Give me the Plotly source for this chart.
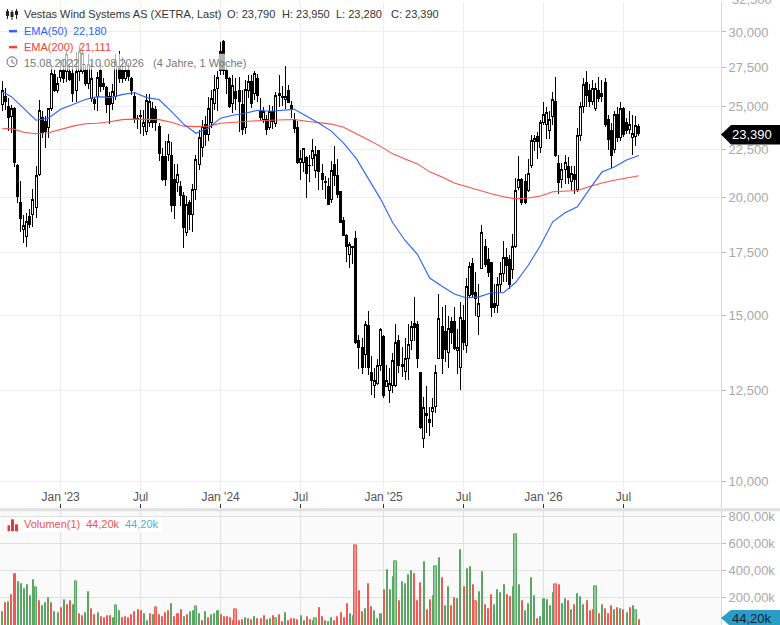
import pandas as pd
import plotly.graph_objects as go

W, H = 780, 625

# weekly candles
opens = [25110,25600,25000,24410,24910,21650,19750,18530,18200,19090,19190,19540,21180,24320,24080,23760,24860,27030,26030,26810,
         27330,27230,27230,27100,26030,27230,27230,27330,26460,25500,25460,25610,27330,26460,26170,25610,25200,25610,27560,27330,
         26800,27300,26780,25610,24300,24390,23830,23540,24020,24900,24800,23830,22150,22150,22240,22200,20930,20760,20540,20130,
         18380,19770,19220,20420,21710,22600,23930,23350,24020,25200,26130,28570,29280,27330,26780,25200,25920,26030,25110,23730,
         26030,26560,25830,26780,24750,24220,24220,23730,24710,23960,25660,25590,25430,26000,25050,24220,23770,21790,21790,22050,
         21670,22010,21360,22470,21200,20820,20570,19940,21710,21100,20310,18930,18240,17400,17740,18100,14120,13860,13650,14630,
         13050,12640,12710,13280,14240,12600,12500,12650,12650,14120,13300,13070,13490,14120,14720,14690,13050,11100,11800,11640,
         11850,12000,13520,14590,14430,13720,14780,14770,13780,13220,14830,13930,15750,17050,15850,14950,16840,17740,17200,17080,
         15460,15370,16170,16630,17270,17200,16800,17770,20500,20930,20840,20340,21620,22970,23250,22610,24020,23930,23590,24410,
         25300,21750,20930,21450,21570,20840,21170,20420,23310,25010,26500,26030,25340,24910,26030,25820,26520,24220,23590,22520,
         24510,23200,24870,24020,23640,23160,23250,23790]
highs = [26600,26130,25500,25100,24950,21700,20840,19190,19280,19470,20420,21620,25400,24710,24410,24900,27700,27330,26860,28000,
         28000,28570,27700,28000,28570,29000,28800,27700,28400,27800,25600,27200,27700,26800,26300,25900,26400,28400,28600,28200,
         27900,27800,26870,25900,24510,24800,24800,25800,25800,25300,25050,24000,22600,23000,23400,22900,21700,21700,20840,20300,
         20100,19900,20700,22200,23600,24200,24400,25600,26000,27000,27300,29300,29430,27500,26900,27000,26800,26900,26000,26700,
         27000,27000,27300,27100,25500,25000,24500,25100,25050,25900,27030,26300,27620,26350,25340,24600,24120,22500,22600,22160,
         22200,23100,22700,22500,21700,21100,21000,21900,22700,22000,20350,19100,18300,17950,17800,18450,14300,14200,14800,15170,
         13600,13200,13500,14550,14300,13300,13200,13700,14700,14300,13900,14200,14700,14800,15700,14800,13050,12300,12630,12000,
         12250,13280,15800,15300,15400,15000,14950,15300,14500,15500,15400,16450,17100,17250,16700,16200,18700,18100,17700,17100,
         16200,16500,17100,18000,17700,17400,18300,21000,22130,21000,21200,22000,23300,23300,23500,24200,25300,25000,24700,25900,
         26900,22200,21800,22200,22100,21600,21600,23700,25300,26800,27270,26400,26700,26500,26900,26700,26800,24500,24000,24700,
         25000,25300,25000,24300,24700,24500,24400,23950]
lows = [24710,24810,23540,23440,21550,19750,18380,17900,17730,18600,18620,19040,21100,23160,22600,23160,24710,25920,25830,26560,
        26500,26560,26600,25300,25300,26600,27100,26300,26100,25300,24800,24710,25900,26000,24610,23950,24800,25400,26500,26500,
        26600,26600,25700,24000,23640,23400,23250,23300,23800,23700,23540,21880,20840,20600,21900,19300,19000,20300,19600,17700,
        18200,18500,18400,19900,21400,22100,22700,23000,23700,24800,24700,27000,27000,25800,24900,24600,24800,23500,23300,23400,
        25500,24900,25400,25300,24120,24000,23300,23600,23640,23800,24950,25050,24870,25200,24320,23440,21700,20900,21300,20000,
        20800,21600,21000,20400,20400,19930,19680,19750,20600,20000,18800,18200,17100,16860,17000,14000,13150,13000,13200,12960,
        12350,12250,12650,13100,12250,12600,12100,12400,12600,13050,12900,12800,12800,13800,14100,13200,11370,10860,11250,11180,
        11420,11830,13500,13000,13400,13200,14000,13800,13000,12500,13800,13700,15650,15700,15000,14300,16800,16900,16500,14950,
        15100,15100,15900,16300,16300,16000,16400,17700,20400,19650,19700,20300,21500,22400,22000,22300,23900,23100,23100,23900,
        22100,20200,20500,20700,20700,20400,20200,20300,23000,24600,25000,25000,25100,24700,25300,25300,23800,22500,21500,22300,
        22900,23000,23200,23400,23400,22200,22700,23280]
closes = [26020,25340,24320,24880,21780,20060,19000,18680,18870,18760,19930,21100,24750,23440,23500,24870,27100,26030,26450,27330,
          26760,28400,26700,25830,27230,28570,28450,26460,27700,26780,25200,26870,26240,26240,25110,25110,25920,27890,26780,26780,
          27330,26900,26030,24210,24200,24450,24020,25400,25300,24020,24020,22270,20900,20900,22970,19610,19650,21180,20130,18600,
          19690,19220,20420,21970,23150,23830,23350,24870,25500,26090,26870,27330,27330,26780,25010,26350,25500,25300,23640,26090,
          26600,25200,27090,25700,24320,24710,23640,24710,24120,25700,25800,25570,25630,25260,24900,23680,21790,22030,22560,21220,
          21640,22450,22240,21340,20930,20760,19680,21360,21100,20180,18830,18240,17770,17830,17700,14050,13860,13200,14690,13220,
          12790,12790,13280,14480,12350,12790,12700,13430,14040,13280,13240,13520,13970,14600,14580,13500,11420,11970,11760,11560,
          11970,13050,14880,13500,13800,14530,14400,13830,13860,14940,14050,16100,16900,15800,15650,15460,18370,17000,16650,15300,
          15300,16180,16630,17270,16950,16180,17770,20340,20930,19770,19770,21240,23010,23120,22970,24060,24510,24610,24220,25430,
          22160,20760,21410,21790,21020,21200,20930,23310,25010,26400,25700,25340,26130,26130,25500,25600,23930,23060,22200,24510,
          23200,24910,23340,23590,23930,23430,23870,23390]

# EMAs, read every fourth week
ema_weeks = [0] + list(range(3, 208, 4))
ema50 = [25920,25610,24890,24180,24300,24830,25120,25430,25610,25550,25740,25870,25550,25430,24710,23950,23420,23710,24300,24470,24590,24770,
         24710,24770,24830,24410,24000,23540,22860,22050,20950,19950,18820,18020,17420,16440,16110,15810,15660,15700,15860,15860,16270,
         16950,17800,18860,19280,19570,20440,21300,21570,21940,22180]
ema200 = [23680,23700,23480,23390,23450,23660,23830,23970,24000,24090,24210,24240,24240,24210,24060,23830,23800,23830,24000,24060,24120,24150,
          24180,24210,24220,24120,24030,23950,23770,23420,23050,22680,22270,21990,21730,21310,21050,20740,20550,20370,20200,20050,19950,
          19990,20090,20300,20330,20360,20560,20740,20880,21010,21111]

# volume in thousands, R = red bar, G = green bar
volume = [103,166,176,228,382,323,308,272,299,220,338,279,184,147,169,206,169,103,95,132,
          191,154,184,154,323,88,73,95,250,125,81,95,66,59,73,73,59,147,110,59,
          66,59,81,103,118,110,88,37,88,81,132,81,66,95,110,162,66,88,118,66,
          81,103,110,140,88,37,103,59,81,88,110,81,66,66,59,37,118,37,44,59,
          51,44,66,51,51,73,44,51,73,51,81,29,95,37,51,51,44,73,37,66,
          44,37,51,132,66,37,29,59,37,66,95,59,162,88,73,588,257,103,125,308,
          140,110,51,88,264,411,264,360,470,184,323,308,375,404,382,184,316,470,118,191,
          220,433,499,353,147,286,147,206,198,558,286,419,433,301,176,250,397,154,125,228,
          154,264,242,301,228,213,286,668,301,184,110,162,353,220,51,66,198,191,147,242,
          301,301,162,198,184,118,154,235,213,154,184,110,118,286,88,154,125,88,147,118,
          132,125,118,95,132,147,110,44.2]
vol_side = ("GRGRRGGGGG" "GGRGGGRGGR" "GRRGGRRGGR" "RGRRRRGGGR" "RRRRRRGGRG" "RRRRRGRRRG" "RGGGGRGRGG"
            "GRRRRRRRRG" "GRGRRRGGRG" "RRGRRRRGGR" "RGGRRGGGRR" "RRRGGRRRGR" "RGGGRGG"
            "GGRGGGGRRR" "GRRGGGRGGR" "RGGRGGRRGG" "RRRGGGGRRG" "GGRGGGGRGG" "GGGRRGGRGR" "GGGRRRGRGR" "RRGRGRGRGG" "R")

price_ticks = [10000, 12500, 15000, 17500, 20000, 22500, 25000, 27500, 30000]
price_labels = ["10,000", "12,500", "15,000", "17,500", "20,000", "22,500", "25,000", "27,500", "30,000"]
vol_ticks = [200, 400, 600, 800]
vol_labels = ["200,00k", "400,00k", "600,00k", "800,00k"]
month_ticks = ["2023-01-02", "2023-07-03", "2024-01-01", "2024-07-01", "2025-01-06", "2025-07-07", "2026-01-05", "2026-07-06"]
month_labels = ["Jan '23", "Jul", "Jan '24", "Jul", "Jan '25", "Jul", "Jan '26", "Jul"]

dates = pd.date_range(end="2026-08-10", periods=len(closes), freq="7D")
ema_dates = [dates[i] for i in ema_weeks]


def px(x):
    return x / W


def py(y):
    return 1 - y / H


fig = go.Figure()
fig.add_trace(go.Candlestick(x=dates, open=opens, high=highs, low=lows, close=closes,
                             increasing=dict(line=dict(color="#000000", width=1), fillcolor="#ffffff"),
                             decreasing=dict(line=dict(color="#000000", width=1), fillcolor="#000000"),
                             whiskerwidth=0, showlegend=False, hoverinfo="skip"))
fig.add_trace(go.Scatter(x=ema_dates, y=ema200, mode="lines", line=dict(color="#f9534a", width=1.1), showlegend=False))
fig.add_trace(go.Scatter(x=ema_dates, y=ema50, mode="lines", line=dict(color="#2962ff", width=1.1), showlegend=False))

# every 13th bar lands on three pixels and looks lighter with an outline
wide_bars = set(range(11, len(volume), 13))
solid = {"R": "#ef5a55", "G": "#5aa665"}
light = {"R": "#f58f8b", "G": "#92cb9a"}
day_ms = 86400000
fig.add_trace(go.Bar(x=dates, y=volume, xaxis="x2", yaxis="y2", showlegend=False,
                     width=[6.6 * day_ms if i in wide_bars else 4.6 * day_ms for i in range(len(volume))],
                     marker=dict(color=[light[s] if i in wide_bars else solid[s] for i, s in enumerate(vol_side)],
                                 line=dict(color=[solid[s] for s in vol_side],
                                           width=[1 if i in wide_bars else 0 for i in range(len(volume))]))))

x_range = ["2022-08-17", "2027-02-13"]
fig.update_layout(
    width=W, height=H, margin=dict(l=0, r=0, t=0, b=0), paper_bgcolor="#ffffff", plot_bgcolor="#ffffff",
    font=dict(family="Liberation Sans, Arial, sans-serif", size=12), bargap=0, boxgap=0.35, boxgroupgap=0,
    xaxis=dict(domain=[0, px(721)], range=x_range, type="date", rangeslider=dict(visible=False), anchor="y",
               tickvals=month_ticks, ticktext=month_labels, ticks="inside", ticklen=4, tickcolor="#333333",
               ticklabelposition="inside", tickfont=dict(color="#555555", size=12),
               showgrid=True, gridcolor="#eeeeee", gridwidth=1, zeroline=False, showline=False),
    yaxis=dict(domain=[py(508), 1], type="log", range=[3.9714, 4.5089], side="right", anchor="x",
               tickvals=price_ticks, ticktext=price_labels, ticks="outside", ticklen=4, tickcolor="#bbbbbb",
               tickfont=dict(color="#a8a8a8", size=13), showgrid=True, gridcolor="#eeeeee", gridwidth=1,
               showline=True, linecolor="#d8d8d8", linewidth=1, zeroline=False),
    xaxis2=dict(domain=[0, px(721)], range=x_range, type="date", anchor="y2", tickvals=month_ticks, ticks="",
                showticklabels=False, showgrid=True, gridcolor="#e0e0e0", gridwidth=1, zeroline=False),
    yaxis2=dict(domain=[0, py(511)], range=[0, 837], side="right", anchor="x2",
                tickvals=vol_ticks, ticktext=vol_labels, ticks="outside", ticklen=4, tickcolor="#bbbbbb",
                tickfont=dict(color="#a8a8a8", size=13), showgrid=True, gridcolor="#e0e0e0", gridwidth=1,
                showline=True, linecolor="#d8d8d8", linewidth=1, zeroline=False),
)

shapes = []


def rect(x0, y0, x1, y1, fill, layer="above"):
    shapes.append(dict(type="rect", xref="paper", yref="paper", x0=px(x0), x1=px(x1), y0=py(y0), y1=py(y1),
                       fillcolor=fill, line=dict(width=0), layer=layer))


def seg(x0, y0, x1, y1, color, width=1):
    shapes.append(dict(type="line", xref="paper", yref="paper", x0=px(x0), x1=px(x1), y0=py(y0), y1=py(y1),
                       line=dict(color=color, width=width), layer="above"))


def poly(points, fill):
    path = "M " + " L ".join(f"{px(x):.5f},{py(y):.5f}" for x, y in points) + " Z"
    shapes.append(dict(type="path", xref="paper", yref="paper", path=path, fillcolor=fill, line=dict(width=0), layer="above"))


# grey volume panel background and divider
rect(0, 511, 721, 625, "#fafafa", layer="below")
rect(0, 508, W, 511, "#e0e0e0")
# faded strip behind legend rows
rect(0, 38, 115, 52, "rgba(255,255,255,0.7)")
rect(0, 52, 248, 68, "rgba(255,255,255,0.7)")
rect(5, 517, 163, 532, "rgba(255,255,255,0.85)")
# candle icon
for cx, top, bot, hi, lo in [(7.5, 9, 14, 7, 17), (12, 10, 15, 8, 18), (16.5, 9, 13, 7, 17)]:
    seg(cx, hi, cx, lo, "#222222")
    rect(cx - 1.5, top, cx + 1.5, bot, "#222222")
# legend dashes
rect(9, 28, 17, 30.5, "#2962ff")
rect(9, 44, 17, 46.5, "#f44336")
# clock icon
shapes.append(dict(type="circle", xref="paper", yref="paper", x0=px(7), x1=px(17), y0=py(65), y1=py(55),
                   line=dict(color="#666666", width=1), layer="above"))
seg(12, 57.5, 12, 60.5, "#666666")
seg(12, 60.5, 14.5, 62, "#666666")
# volume icon
rect(7.5, 525, 10, 531, "#e53935")
rect(11, 519, 14, 531, "#e53935")
rect(15, 524, 18, 531, "#e53935")
# last value tags
poly([(721, 133), (731, 123.5), (780, 123.5), (780, 143), (731, 143)], "#000000")
poly([(721, 618), (731, 610), (780, 610), (780, 625), (729, 625)], "#2a9cc8")
fig.update_layout(shapes=shapes)


def label(x, y, text, color, size=11):
    fig.add_annotation(xref="paper", yref="paper", x=px(x), y=py(y), text=text, showarrow=False, xanchor="left",
                       yanchor="middle", font=dict(color=color, size=size), align="left", borderpad=0)


label(23, 12, "Vestas Wind Systems AS (XETRA, Last)", "#333333")
label(226, 12, "O: 23,790", "#333333")
label(281, 12, "H: 23,950", "#333333")
label(335, 12, "L: 23,280", "#333333")
label(390, 12, "C: 23,390", "#333333")
label(23, 29, "EMA(50)", "#2962ff")
label(72, 29, "22,180", "#2962ff")
label(23, 45, "EMA(200)", "#f44336")
label(78, 45, "21,111", "#f44336")
label(23, 61, "15.08.2022 - 10.08.2026", "#777777")
label(152, 61, "(4 Jahre, 1 Woche)", "#777777")
label(23, 524, "Volumen(1)", "#ef5350")
label(85, 524, "44,20k", "#ef5350")
label(124, 524, "44,20k", "#4fb0d9")
label(731, 133, "23,390", "#ffffff", 13)
label(731, 618.5, "44,20k", "#10222c", 13)
# topmost tick falls just off the page
label(731, -2.5, "32,500", "#a8a8a8", 13)

crisp = ("document.body.style.margin='0'; document.documentElement.style.overflow='hidden';"
         "document.querySelectorAll('.boxlayer path').forEach(p => p.style.shapeRendering = 'crispEdges');")
fig.write_html("out.html", config=dict(displayModeBar=False), post_script=crisp)
